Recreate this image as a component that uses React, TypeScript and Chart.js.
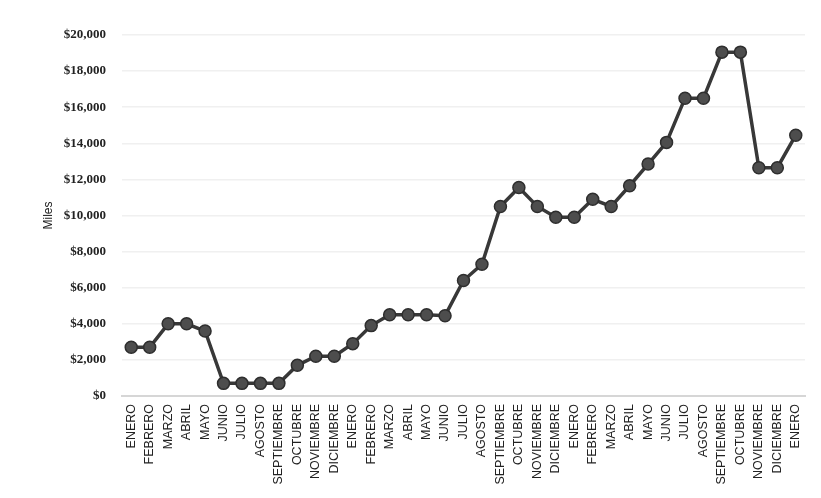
import React, { useEffect, useRef } from "react";
import { Chart, registerables } from "chart.js";

Chart.register(...registerables);

const categories: string[] = [
  "ENERO", "FEBRERO", "MARZO", "ABRIL", "MAYO", "JUNIO", "JULIO", "AGOSTO", "SEPTIEMBRE", "OCTUBRE", "NOVIEMBRE", "DICIEMBRE",
  "ENERO", "FEBRERO", "MARZO", "ABRIL", "MAYO", "JUNIO", "JULIO", "AGOSTO", "SEPTIEMBRE", "OCTUBRE", "NOVIEMBRE", "DICIEMBRE",
  "ENERO", "FEBRERO", "MARZO", "ABRIL", "MAYO", "JUNIO", "JULIO", "AGOSTO", "SEPTIEMBRE", "OCTUBRE", "NOVIEMBRE", "DICIEMBRE",
  "ENERO",
];

const values: number[] = [
  2700, 2700, 4000, 4000, 3600, 700, 700, 700, 700, 1700, 2200, 2200,
  2900, 3900, 4500, 4500, 4500, 4450, 6400, 7300, 10500, 11550, 10500, 9900,
  9900, 10900, 10500, 11650, 12850, 14050, 16500, 16500, 19050, 19050, 12650, 12650,
  14450,
];

const yMin = 0;
const yMax = 20000;
const yStep = 2000;
const yTitle = "Miles";

export default function App() {
  const ref = useRef<HTMLCanvasElement | null>(null);

  useEffect(() => {
    document.body.style.margin = "0";
    if (!ref.current) return;
    const chart = new Chart(ref.current, {
      type: "line",
      data: {
        labels: categories,
        datasets: [
          {
            data: values,
            borderColor: "#383838",
            borderWidth: 3.5,
            backgroundColor: "#4a4a4a",
            pointBackgroundColor: "#4d4d4d",
            pointBorderColor: "#2e2e2e",
            pointBorderWidth: 1.5,
            pointRadius: 6,
            tension: 0,
          },
        ],
      },
      options: {
        animation: false,
        responsive: false,
        maintainAspectRatio: false,
        layout: { padding: { left: 0, right: 16, top: 35, bottom: 0 } },
        plugins: { legend: { display: false }, tooltip: { enabled: false } },
        scales: {
          x: {
            offset: true,
            grid: { display: false, drawTicks: false },
            border: { display: true, color: "#d6d6d6", width: 2 },
            ticks: {
              autoSkip: false,
              maxRotation: 90,
              minRotation: 90,
              padding: 8,
              color: "#222",
              font: { family: "'Liberation Sans', Arial, sans-serif", size: 12.5 },
            },
            afterFit: (scale: any) => {
              scale.height = 102;
            },
          },
          y: {
            min: yMin,
            max: yMax,
            grid: { color: "#f0f0f0", lineWidth: 1.5, drawTicks: false },
            border: { display: false },
            ticks: {
              stepSize: yStep,
              padding: 16,
              color: "#222",
              font: { family: "'Liberation Serif', 'Times New Roman', serif", size: 13, weight: "bold" },
              callback: (v: any) => "$" + Number(v).toLocaleString("en-US"),
            },
            title: {
              display: true,
              text: yTitle,
              color: "#222",
              padding: { top: 41, bottom: 0 },
              font: { family: "'Liberation Sans', Arial, sans-serif", size: 12 },
            },
            afterFit: (scale: any) => {
              scale.width = 122;
            },
          },
        },
      },
    });
    return () => chart.destroy();
  }, []);

  return (
    <div style={{ width: 821, height: 498, background: "#fff" }}>
      <canvas ref={ref} width={821} height={498} style={{ width: 821, height: 498, display: "block" }} />
    </div>
  );
}
